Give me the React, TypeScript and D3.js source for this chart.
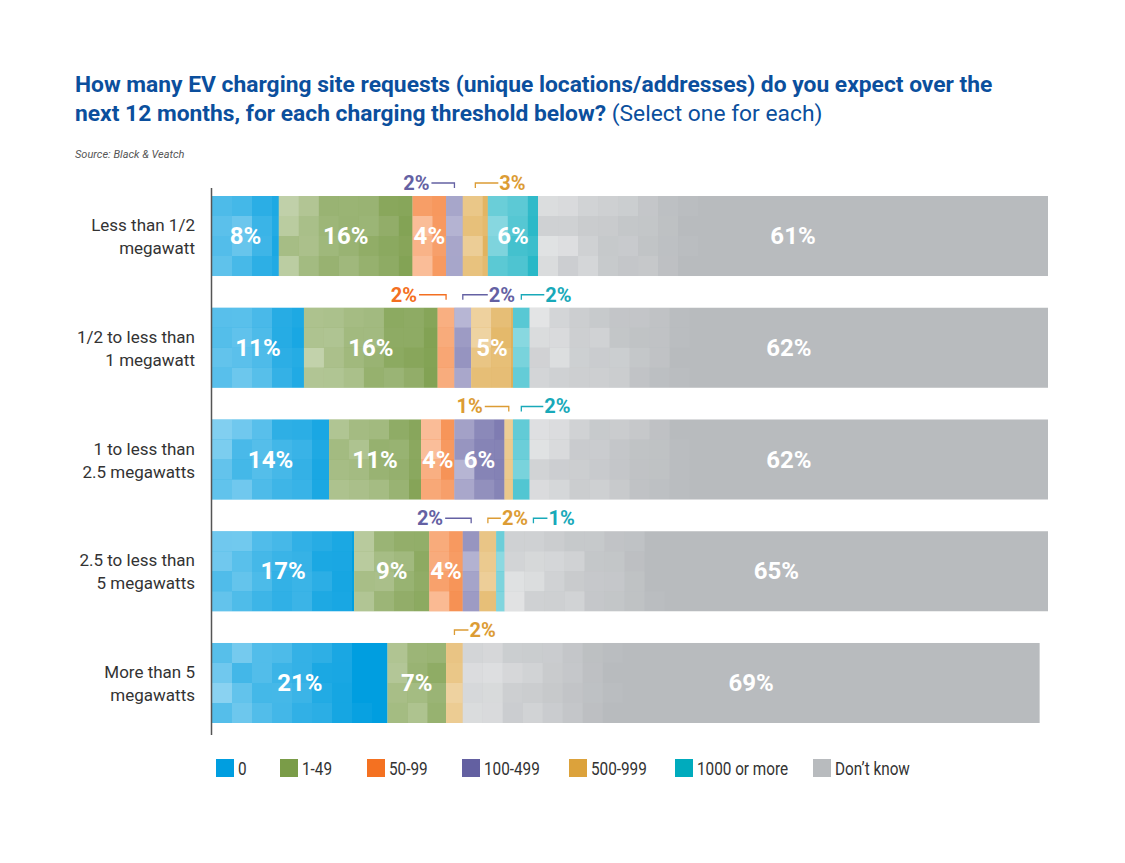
import React from "react";
import * as d3 from "d3";

// ---------- data ----------
const categoryLines: string[][] = [
  ["Less than 1/2", "megawatt"],
  ["1/2 to less than", "1 megawatt"],
  ["1 to less than", "2.5 megawatts"],
  ["2.5 to less than", "5 megawatts"],
  ["More than 5", "megawatts"],
];
const seriesNames = ["0", "1-49", "50-99", "100-499", "500-999", "1000 or more", "Don\u2019t know"];
const s0 = [8, 11, 14, 17, 21];
const s1to49 = [16, 16, 11, 9, 7];
const s50to99 = [4, 2, 4, 4, 0];
const s100to499 = [2, 2, 6, 2, 0];
const s500to999 = [3, 5, 1, 2, 2];
const s1000plus = [6, 2, 2, 1, 0];
const sDontKnow = [61, 62, 62, 65, 69];
const seriesValues = [s0, s1to49, s50to99, s100to499, s500to999, s1000plus, sDontKnow];

// ---------- styles / layout ----------
const colors = ["#009ee0", "#7a9c48", "#f47121", "#6360a1", "#dca23b", "#00abbd", "#b8bbbe"];
const textColors = ["#009ee0", "#7a9c48", "#f36f21", "#6461a3", "#dc9c34", "#18a9b9", "#888"];
const legendX = [216, 280, 367, 462, 569, 675, 813];

// outside callouts (layout only)
const callouts = [
  { row: 0, series: 3, side: "left", len: 23, dx: 0 },
  { row: 0, series: 4, side: "right", len: 23, dx: 0 },
  { row: 1, series: 2, side: "left", len: 27, dx: 0 },
  { row: 1, series: 3, side: "right", len: 25, dx: 0 },
  { row: 1, series: 5, side: "right", len: 23, dx: 0 },
  { row: 2, series: 4, side: "left", len: 24, dx: 0 },
  { row: 2, series: 5, side: "right", len: 22, dx: 0 },
  { row: 3, series: 3, side: "left", len: 26, dx: 0 },
  { row: 3, series: 4, side: "right", len: 13, dx: 0 },
  { row: 3, series: 5, side: "right", len: 14, dx: 33 },
  { row: 4, series: 4, side: "right", len: 14, dx: 0 },
];

const W = 1125;
const H = 863;
const FONT = "Roboto, 'Noto Sans', sans-serif";

// deterministic texture hash (decorative only)
function hash(a: number, b: number, c: number) {
  const s = Math.sin(a * 12.9898 + b * 78.233 + c * 37.719) * 43758.5453;
  return s - Math.floor(s);
}

export default function App() {
  const x = d3.scaleLinear().domain([0, 100]).range([212, 1048]);
  const y = d3
    .scaleBand<number>()
    .domain(d3.range(categoryLines.length))
    .range([196, 723])
    .paddingInner(0.284)
    .paddingOuter(0);
  const bw = y.bandwidth();

  const stacked = categoryLines.map((_, r) => {
    let acc = 0;
    return seriesValues.map((vals, s) => {
      const v = vals[r];
      const seg = { row: r, series: s, v, x0: x(acc), x1: x(acc + v) };
      acc += v;
      return seg;
    });
  });

  const tile = 20;
  const segs = stacked.flat().filter((d) => d.v > 0);

  return (
    <svg
      width={W}
      height={H}
      style={{ position: "absolute", left: 0, top: 0, background: "#fff" }}
      fontFamily={FONT}
    >
      <rect width={W} height={H} fill="#fff" />
      {/* title */}
      <text x={75} y={92} fill="#0b4f9d" fontSize={22.8} fontWeight={700}>
        How many EV charging site requests (unique locations/addresses) do you expect over the
      </text>
      <text x={75} y={121} fill="#0b4f9d" fontSize={22.8} fontWeight={700}>
        next 12 months, for each charging threshold below?{" "}
        <tspan fontWeight={400}>(Select one for each)</tspan>
      </text>
      <text x={75} y={158} fill="#555" fontSize={11} fontStyle="italic">
        Source: Black &amp; Veatch
      </text>

      {/* bars with mosaic texture */}
      {segs.map((d) => {
        const y0 = y(d.row)!;
        const w = d.x1 - d.x0;
        const cols = Math.ceil(w / tile - 0.01);
        const rows = Math.round(bw / tile);
        const fade = d.series === 6 ? 150 : Math.min(Math.max(w + 20, 40), 150);
        const tiles: any[] = [];
        for (let c = 0; c < cols; c++) {
          for (let j = 0; j < rows; j++) {
            const f = 1 - (c * tile) / fade;
            if (f <= 0) continue;
            const h = hash(d.row * 7 + d.series, c, j);
            const n = 0.55 + 0.45 * h;
            const a = (d.series === 6 ? 0.6 : 0.55) * f * n;
            if (a < 0.03) continue;
            const tx = d.x0 + c * tile;
            tiles.push(
              <rect
                key={`${c}-${j}`}
                x={tx}
                y={y0 + j * tile}
                width={Math.min(tile, d.x1 - tx)}
                height={tile}
                fill="#fff"
                opacity={a}
              />
            );
          }
        }
        return (
          <g key={`${d.row}-${d.series}`}>
            <rect x={d.x0} y={y0} width={w} height={bw} fill={colors[d.series]} />
            {tiles}
          </g>
        );
      })}

      {/* inside labels */}
      {segs
        .filter((d) => d.v > 3)
        .map((d) => (
          <text
            key={`l-${d.row}-${d.series}`}
            x={(d.x0 + d.x1) / 2}
            y={y(d.row)! + bw / 2 + 8}
            textAnchor="middle"
            fill="#fff"
            fontSize={24}
            fontWeight={700}
          >
            {d.v}%
          </text>
        ))}

      {/* outside callouts */}
      {callouts.map((c, i) => {
        const d = stacked[c.row][c.series];
        const tx = (d.x0 + d.x1) / 2 + c.dx;
        const ly = y(c.row)! - 13;
        const ex = c.side === "left" ? tx - c.len : tx + c.len;
        const col = textColors[c.series];
        return (
          <g key={`c-${i}`}>
            <path
              d={`M${tx},${ly + 5}V${ly}H${ex}`}
              fill="none"
              stroke={col}
              strokeWidth={1.3}
            />
            <text
              x={c.side === "left" ? ex - 2 : ex + 1}
              y={ly + 7}
              textAnchor={c.side === "left" ? "end" : "start"}
              fill={col}
              fontSize={20}
              fontWeight={700}
            >
              {d.v}%
            </text>
          </g>
        );
      })}

      {/* axis line */}
      <line x1={211.5} x2={211.5} y1={188} y2={735} stroke="#555" strokeWidth={1.5} />

      {/* category labels */}
      {categoryLines.map((lines, r) => (
        <text
          key={`cat-${r}`}
          x={195}
          y={y(r)! + bw / 2 - 5}
          textAnchor="end"
          fill="#333"
          fontSize={17}
        >
          {lines.map((ln, k) => (
            <tspan key={k} x={195} dy={k === 0 ? 0 : 23}>
              {ln}
            </tspan>
          ))}
        </text>
      ))}

      {/* legend */}
      {seriesNames.map((name, i) => (
        <g key={`lg-${i}`}>
          <rect x={legendX[i]} y={759} width={18} height={18} fill={colors[i]} />
          <text
            transform={`translate(${legendX[i] + 22},775) scale(0.85,1)`}
            fill="#333"
            fontSize={18}
          >
            {name}
          </text>
        </g>
      ))}
    </svg>
  );
}
